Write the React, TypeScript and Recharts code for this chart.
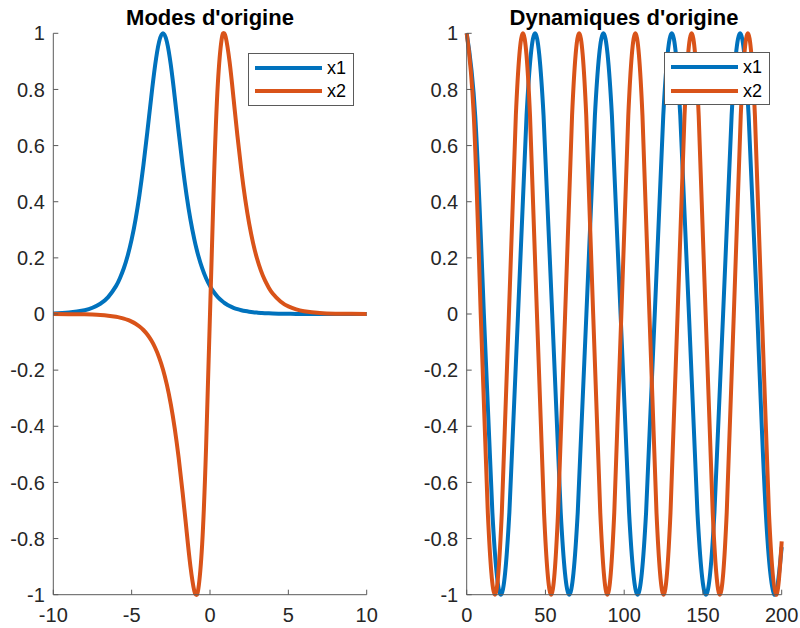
import React from 'react';
import { LineChart, Line, XAxis, YAxis } from 'recharts';

const BLUE = '#0072BD';
const ORANGE = '#D95319';
const FONT = '"Liberation Sans", Arial, Helvetica, sans-serif';

// Modes d'origine: x grid and both mode shapes
const modeX = [
  -10, -9, -8, -7.5, -7, -6.5, -6, -5.75, -5.5, -5.25, -5, -4.75, -4.5, -4.25, -4,
  -3.75, -3.5, -3.25, -3, -2.75, -2.5, -2.25, -2, -1.75, -1.5, -1.25, -1, -0.88,
  -0.75, -0.5, -0.25, 0, 0.25, 0.5, 0.75, 0.88, 1, 1.25, 1.5, 1.75, 2, 2.25, 2.5,
  2.75, 3, 3.25, 3.5, 3.75, 4, 4.5, 5, 5.5, 6, 7, 8, 9, 10,
];
const modeX1 = [
  0.0018, 0.005, 0.0135, 0.0222, 0.0366, 0.0603, 0.0993, 0.1273, 0.1631, 0.2085, 0.2658,
  0.3374, 0.4251, 0.5295, 0.6481, 0.7724, 0.8868, 0.9695, 1, 0.9695, 0.8868, 0.7724,
  0.6481, 0.5295, 0.4251, 0.3374, 0.2658, 0.2367, 0.2085, 0.1631, 0.1273, 0.0993,
  0.0774, 0.0603, 0.047, 0.0413, 0.0366, 0.0285, 0.0222, 0.0173, 0.0135, 0.0105,
  0.0082, 0.0064, 0.005, 0.0039, 0.003, 0.0023, 0.0018, 0.0011, 0.0007, 0.0004,
  0.0002, 0.0001, 0, 0, 0,
];
const modeX2 = [
  -0.0002, -0.0005, -0.0013, -0.0022, -0.0036, -0.006, -0.01, -0.0128, -0.0164, -0.021,
  -0.027, -0.0346, -0.0444, -0.057, -0.0731, -0.0938, -0.1203, -0.1543, -0.1976,
  -0.2525, -0.3218, -0.4078, -0.5125, -0.6353, -0.7695, -0.8983, -0.9872, -1, -0.9811,
  -0.8196, -0.4749, 0, 0.4749, 0.8196, 0.9811, 1, 0.9872, 0.8983, 0.7695, 0.6353,
  0.5125, 0.4078, 0.3218, 0.2525, 0.1976, 0.1543, 0.1203, 0.0938, 0.0731, 0.0444,
  0.027, 0.0164, 0.01, 0.0036, 0.0013, 0.0005, 0.0002,
];

// Dynamiques d'origine: each signal has its own time samples
const dynT1 = [
  0, 5.4, 10.9, 16.3, 21.7, 27.1, 32.6, 38, 43.4, 48.8, 54.3, 59.7, 65.1, 70.5, 76,
  81.4, 86.8, 92.2, 97.7, 103.1, 108.5, 113.9, 119.4, 124.8, 130.2, 135.6, 141.1,
  146.5, 151.9, 157.3, 162.8, 168.2, 173.6, 179, 184.5, 189.9, 195.3, 200,
];
const dynX1 = [
  1, 0.707, 0, -0.707, -1, -0.707, 0, 0.707,
  1, 0.707, 0, -0.707, -1, -0.707, 0, 0.707,
  1, 0.707, 0, -0.707, -1, -0.707, 0, 0.707,
  1, 0.707, 0, -0.707, -1, -0.707, 0, 0.707,
  1, 0.707, 0, -0.707, -1, -0.83,
];
const dynT2 = [
  0, 4.5, 8.9, 13.4, 17.9, 22.3, 26.8, 31.2, 35.7, 40.2, 44.6, 49.1, 53.6, 58, 62.5,
  66.9, 71.4, 75.9, 80.3, 84.8, 89.3, 93.7, 98.2, 102.6, 107.1, 111.6, 116, 120.5, 125,
  129.4, 133.9, 138.3, 142.8, 147.3, 151.7, 156.2, 160.7, 165.1, 169.6, 174, 178.5, 183,
  187.4, 191.9, 196.4, 200,
];
const dynX2 = [
  1, 0.707, 0, -0.707, -1, -0.707, 0, 0.707,
  1, 0.707, 0, -0.707, -1, -0.707, 0, 0.707,
  1, 0.707, 0, -0.707, -1, -0.707, 0, 0.707,
  1, 0.707, 0, -0.707, -1, -0.707, 0, 0.707,
  1, 0.707, 0, -0.707, -1, -0.707, 0, 0.707,
  1, 0.707, 0, -0.707, -1, -0.81,
];

const yTicks = [-1, -0.8, -0.6, -0.4, -0.2, 0, 0.2, 0.4, 0.6, 0.8, 1];
const modeTicks = [-10, -5, 0, 5, 10];
const dynTicks = [0, 50, 100, 150, 200];

const modeData = modeX.map((x, i) => ({ x, x1: modeX1[i], x2: modeX2[i] }));
const dyn1Data = dynT1.map((x, i) => ({ x, v: dynX1[i] }));
const dyn2Data = dynT2.map((x, i) => ({ x, v: dynX2[i] }));

const boxStroke = { stroke: '#5a5a5a', strokeWidth: 1 };
const tickText = { fill: '#262626', fontSize: 20, fontFamily: FONT };
const noLabel = () => '';

// Box-style axes: labelled bottom/left axes plus bare top/right axes, all with inward ticks.
// The series axes don't clip, so the thick strokes can round over the box edge at +/-1.
const boxAxes = (domain: number[], xTicks: number[], yWidth: number) => [
  <XAxis key="xb" type="number" dataKey="x" domain={domain} ticks={xTicks} interval={0}
    height={33.3} tickSize={-5} tickMargin={18}
    axisLine={boxStroke} tickLine={boxStroke} tick={tickText} />,
  <XAxis key="xt" xAxisId="top" orientation="top" type="number" dataKey="x" domain={domain}
    ticks={xTicks} interval={0} allowDataOverflow height={0} tickSize={-5}
    axisLine={boxStroke} tickLine={boxStroke} tickFormatter={noLabel} />,
  <YAxis key="yl" type="number" domain={[-1, 1]} ticks={yTicks} interval={0}
    width={yWidth} tickSize={-5} tickMargin={13.5}
    axisLine={boxStroke} tickLine={boxStroke} tick={tickText} />,
  <YAxis key="yr" yAxisId="right" orientation="right" type="number" domain={[-1, 1]}
    ticks={yTicks} interval={0} allowDataOverflow width={0} tickSize={-5}
    axisLine={boxStroke} tickLine={boxStroke} tickFormatter={noLabel} />,
];

const Title: React.FC<{ cx: number; text: string }> = ({ cx, text }) => (
  <div style={{
    position: 'absolute', left: cx - 200, top: 7, width: 400, textAlign: 'center',
    fontFamily: FONT, fontWeight: 'bold', fontSize: 22, lineHeight: '22px', color: '#000',
  }}>
    {text}
  </div>
);

const LegendBox: React.FC<{ left: number; top: number }> = ({ left, top }) => {
  const rows = [
    { name: 'x1', color: BLUE, cy: 14 },
    { name: 'x2', color: ORANGE, cy: 37.5 },
  ];
  return (
    <div style={{
      position: 'absolute', left, top, width: 104, height: 51,
      border: '1px solid #5a5a5a', background: '#fff',
    }}>
      {rows.map((r) => (
        <React.Fragment key={r.name}>
          <div style={{
            position: 'absolute', left: 6.5, top: r.cy - 2, width: 67, height: 4, background: r.color,
          }} />
          <div style={{
            position: 'absolute', left: 78.5, top: r.cy - 9, fontFamily: FONT, fontSize: 18,
            lineHeight: '18px', color: '#000',
          }}>
            {r.name}
          </div>
        </React.Fragment>
      ))}
    </div>
  );
};

export default function App() {
  return (
    <div style={{
      position: 'absolute', left: 0, top: 0, width: 800, height: 628,
      background: '#fff', overflow: 'hidden',
    }}>
      <div style={{ position: 'absolute', left: 0, top: 0 }}>
        <LineChart width={400} height={628} data={modeData}
          margin={{ top: 33.3, right: 33.3, bottom: 0, left: 0 }}>
          {boxAxes([-10, 10], modeTicks, 53.3)}
          <Line type="natural" dataKey="x1" stroke={BLUE} strokeWidth={4} dot={false}
            activeDot={false} isAnimationActive={false} />
          <Line type="natural" dataKey="x2" stroke={ORANGE} strokeWidth={4} dot={false}
            activeDot={false} isAnimationActive={false} />
        </LineChart>
      </div>
      <div style={{ position: 'absolute', left: 400, top: 0 }}>
        <LineChart width={400} height={628}
          margin={{ top: 33.3, right: 18.3, bottom: 0, left: 0 }}>
          {boxAxes([0, 200], dynTicks, 66.7)}
          <Line data={dyn1Data} type="natural" dataKey="v" name="x1" stroke={BLUE}
            strokeWidth={4} dot={false} activeDot={false} isAnimationActive={false} />
          <Line data={dyn2Data} type="natural" dataKey="v" name="x2" stroke={ORANGE}
            strokeWidth={4} dot={false} activeDot={false} isAnimationActive={false} />
        </LineChart>
      </div>
      <Title cx={210} text="Modes d'origine" />
      <Title cx={624} text="Dynamiques d'origine" />
      <LegendBox left={247.5} top={52.5} />
      <LegendBox left={663.5} top={52} />
    </div>
  );
}
